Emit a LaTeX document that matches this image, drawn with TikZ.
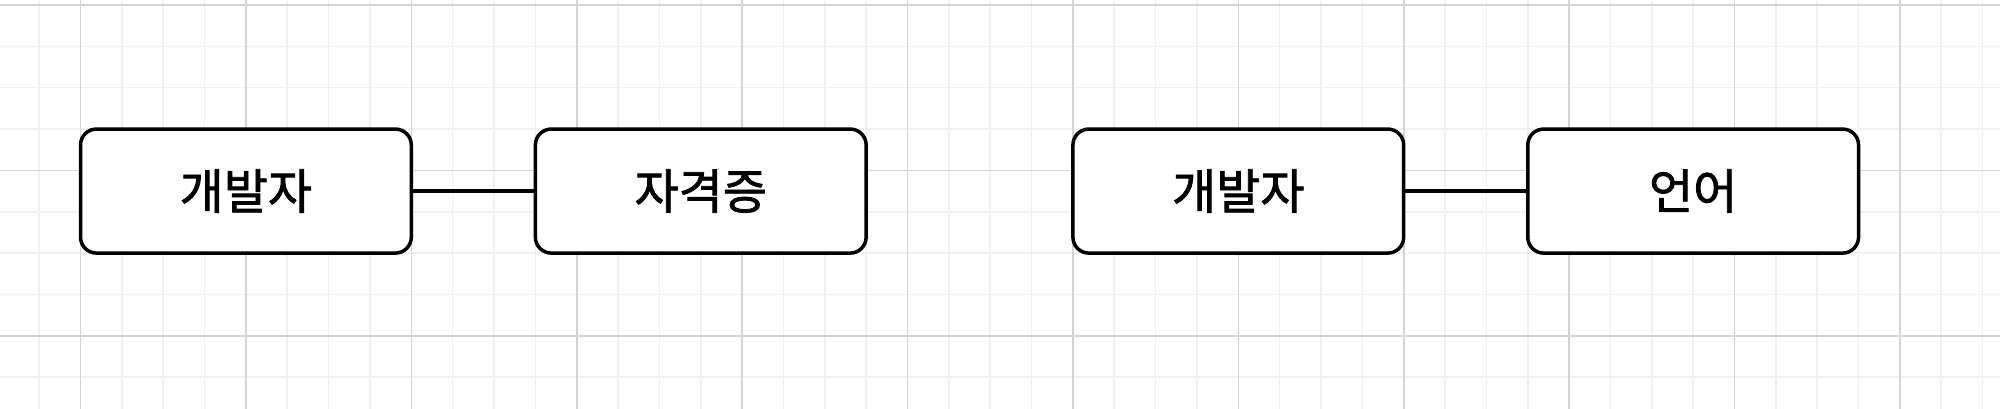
\documentclass[tikz,border=0pt]{standalone}
\usepackage{fontspec}
\newfontfamily\krfont[FakeBold=1.6]{Noto Sans CJK KR}
\definecolor{gridmajor}{RGB}{212,212,212}
\definecolor{gridminor}{RGB}{241,241,241}
\begin{document}
\begin{tikzpicture}[x=2.0675pt,y=-2.0675pt,
  entity/.style={draw=black,line width=1.75pt,rounded corners=8pt,fill=white,
    minimum width=165.4pt,minimum height=62.03pt,inner sep=0pt,outer sep=0pt,
    font=\krfont\fontsize{24pt}{29pt}\selectfont},
  link/.style={draw=black,line width=1.65pt},
  minorline/.style={draw=gridminor,line width=0.8pt},
  majorline/.style={draw=gridmajor,line width=0.8pt}]
\useasboundingbox[fill=white] (-19.47,-1.21) rectangle (464.21,97.70);
% minor grid
\foreach \gx in {-10,0,...,460} {\draw[minorline] (\gx,-1.21) -- (\gx,97.70);}
\foreach \gy in {10,20,...,90} {\draw[minorline] (-19.47,\gy) -- (464.21,\gy);}
% major grid
\foreach \gx in {0,40,...,440} {\draw[majorline] (\gx,-1.21) -- (\gx,97.70);}
\foreach \gy in {0,40,80} {\draw[majorline] (-19.47,\gy) -- (464.21,\gy);}
% entities
\node[entity] (dev1) at (40,45) {\raisebox{-1pt}{개발자}};
\node[entity] (cert) at (150,45) {\raisebox{-1pt}{자격증}};
\node[entity] (dev2) at (280,45) {\raisebox{-1pt}{개발자}};
\node[entity] (lang) at (390,45) {\raisebox{-1pt}{언어}};
% connectors
\draw[link] (dev1.east) -- (cert.west);
\draw[link] (dev2.east) -- (lang.west);
\end{tikzpicture}
\end{document}
